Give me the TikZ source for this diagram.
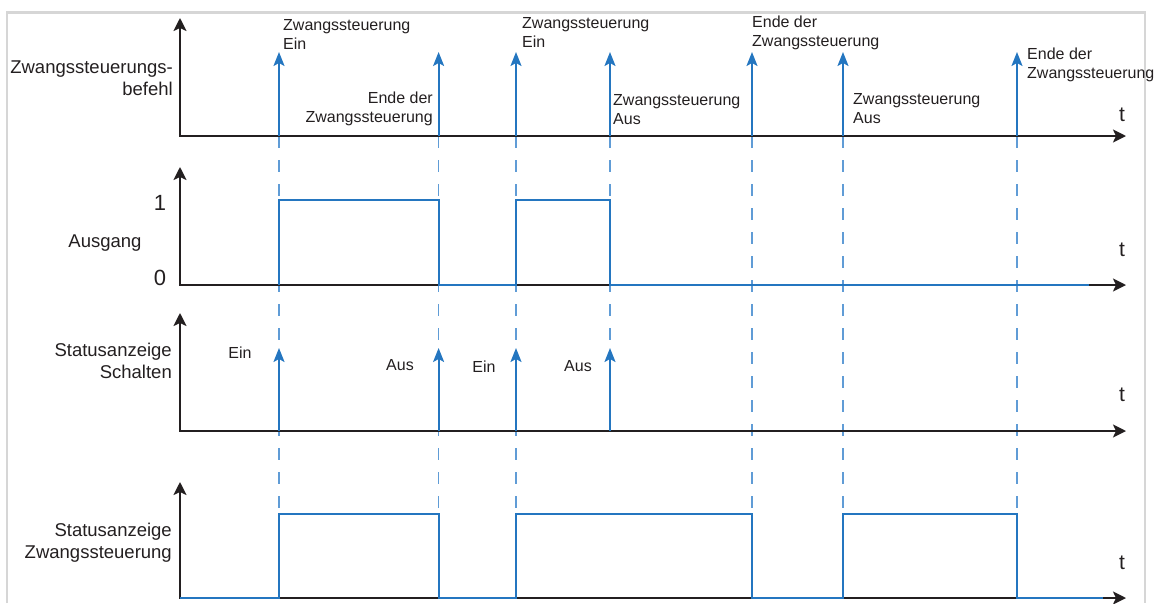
\documentclass[tikz,border=0pt]{standalone}
\usepackage{fontspec}
\setmainfont{Liberation Sans}
\usepackage{tikz}
\usetikzlibrary{arrows.meta}

\definecolor{sigblue}{RGB}{36,118,192}
\definecolor{guideblue}{RGB}{96,156,214}
\definecolor{axisgray}{RGB}{35,31,32}
\definecolor{framegray}{RGB}{214,214,214}

\tikzset{
    axis/.style={draw=axisgray, line width=2pt, {Stealth[length=13pt,width=13pt,inset=3pt]}-{Stealth[length=13pt,width=13pt,inset=3pt]}},
    sig/.style={draw=sigblue, line width=1.8pt},
    pulse/.style={draw=sigblue, line width=1.8pt, -{Stealth[length=14pt,width=11pt,inset=3pt]}},
    guide/.style={draw=guideblue, line width=1.1pt, dash pattern=on 12pt off 12pt},
    note/.style={font=\fontsize{16}{19}\selectfont, text=axisgray, inner sep=0pt},
    lbl/.style={font=\fontsize{18.5}{22}\selectfont, text=axisgray, inner sep=0pt},
    tlbl/.style={font=\fontsize{21}{24}\selectfont, text=axisgray, inner sep=0pt}
}

\begin{document}
\begin{tikzpicture}[x=1pt, y=-1pt]
    \useasboundingbox (0,0) rectangle (1163,603);
    \draw[framegray, line width=2.5pt] (7,603) -- (7,12.7) -- (1145,12.7) -- (1145,603);

    % dashed guide lines
    \foreach \x in {279,438.6,516,752,843,1017}
        \draw[guide] (\x,136) -- (\x,514);
    \draw[guide] (610,136) -- (610,431);

    % axes
    \draw[axis] (180,18) -- (180,136) -- (1126,136);
    \draw[axis] (180,167) -- (180,285) -- (1126,285);
    \draw[axis] (180,313) -- (180,431) -- (1126,431);
    \draw[axis] (180,482) -- (180,598) -- (1126,598);

    % Zwangssteuerungsbefehl
    \foreach \x in {279,438.6,516,610,752,843,1017}
        \draw[pulse] (\x,136) -- (\x,52);
    \node[lbl, align=right, anchor=east] (cmd) at (173,78) {Zwangssteuerungs-\\befehl};
    \node[note, align=left, anchor=west] (on1) at (283,34.5) {Zwangssteuerung\\Ein};
    \node[note, align=right, anchor=east] (end1) at (433,109) {Ende der\\Zwangssteuerung};
    \node[note, align=left, anchor=west] (on2) at (522,32.5) {Zwangssteuerung\\Ein};
    \node[note, align=left, anchor=west] (off1) at (613,109.5) {Zwangssteuerung\\Aus};
    \node[note, align=left, anchor=west] (end2) at (752,33) {Ende der\\Zwangssteuerung};
    \node[note, align=left, anchor=west] (off2) at (853,108.5) {Zwangssteuerung\\Aus};
    \node[note, align=left, anchor=west] (end3) at (1027,65) {Ende der\\Zwangssteuerung};
    \node[tlbl] (t1) at (1122,115) {t};

    % Ausgang
    \draw[sig] (279,285) -- (279,200) -- (438.6,200) -- (438.6,285) -- (516,285)
        -- (516,200) -- (610,200) -- (610,285) -- (1089,285);
    \node[lbl] (out) at (105,243) {Ausgang};
    \node[font=\fontsize{22}{24}\selectfont, text=axisgray, inner sep=0pt] (one) at (160,203) {1};
    \node[font=\fontsize{22}{24}\selectfont, text=axisgray, inner sep=0pt] (zero) at (160,278) {0};
    \node[tlbl] (t2) at (1122,250) {t};

    % Statusanzeige Schalten
    \foreach \x in {279,438.6,516,610}
        \draw[pulse] (\x,431) -- (\x,348);
    \node[lbl, align=right, anchor=east] (sw) at (172,361) {Statusanzeige\\Schalten};
    \node[note] (swon1) at (240,352.5) {Ein};
    \node[note] (swoff1) at (400,365.5) {Aus};
    \node[note] (swon2) at (484,366.5) {Ein};
    \node[note] (swoff2) at (578,366) {Aus};
    \node[tlbl] (t3) at (1122,395) {t};

    % Statusanzeige Zwangssteuerung
    \draw[sig] (180,598) -- (279,598) -- (279,514) -- (438.6,514) -- (438.6,598) -- (516,598)
        -- (516,514) -- (752,514) -- (752,598) -- (843,598) -- (843,514) -- (1017,514)
        -- (1017,598) -- (1103,598);
    \node[lbl, align=right, anchor=east] (forced) at (172,542.5) {Statusanzeige\\Zwangssteuerung};
    \node[tlbl] (t4) at (1122,563) {t};
\end{tikzpicture}
\end{document}
